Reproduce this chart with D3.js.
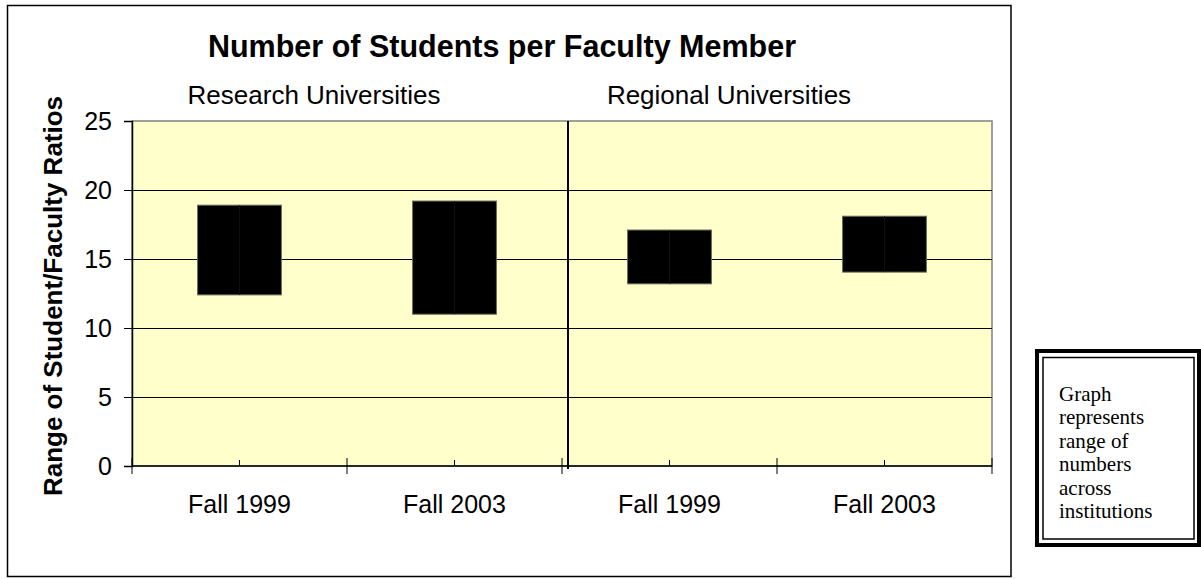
<!DOCTYPE html>
<html lang="en">
<head>
  <meta charset="utf-8">
  <title>Number of Students per Faculty Member</title>
  <script src="https://d3js.org/d3.v7.min.js"></script>
  <style>
    body { margin: 0; background: #fff; }
    text { font-family: Arial, "Liberation Sans", sans-serif; fill: #000; }
  </style>
</head>
<body>
  <script>
    // chart data
    var categories = ["Fall 1999", "Fall 2003", "Fall 1999", "Fall 2003"];
    var groups = ["Research Universities", "Regional Universities"];
    var lows = [12.4, 11.0, 13.2, 14.05];
    var highs = [18.9, 19.2, 17.1, 18.1];
    var yTicks = [0, 5, 10, 15, 20, 25];
    var noteLines = ["Graph", "represents", "range of", "numbers", "across", "institutions"];

    var width = 1201,
        height = 579;

    var plot = { left: 132, right: 992, top: 121, bottom: 466 };

    var svg = d3.select("body").append("svg")
        .attr("width", width)
        .attr("height", height);

    var x = d3.scaleBand()
        .domain(d3.range(categories.length))
        .range([plot.left, plot.right]);

    var y = d3.scaleLinear()
        .domain([0, 25])
        .range([plot.bottom, plot.top]);

    // outer chart frame
    svg.append("rect")
        .attr("x", 7.5).attr("y", 5.5)
        .attr("width", 1003.5).attr("height", 571)
        .attr("fill", "none")
        .attr("stroke", "#000")
        .attr("stroke-width", 1.5);

    // plot area
    svg.append("rect")
        .attr("x", plot.left).attr("y", plot.top)
        .attr("width", plot.right - plot.left)
        .attr("height", plot.bottom - plot.top)
        .attr("fill", "#ffffcc")
        .attr("stroke", "#808080")
        .attr("stroke-width", 1.5);

    // gridlines
    svg.append("g")
      .selectAll("line")
      .data(yTicks.filter(function(d) { return d > 0 && d < 25; }))
      .enter().append("line")
        .attr("x1", plot.left).attr("x2", plot.right)
        .attr("y1", function(d) { return y(d) + 0.5; })
        .attr("y2", function(d) { return y(d) + 0.5; })
        .attr("stroke", "#000")
        .attr("stroke-width", 1);

    // range boxes
    var bw = x.bandwidth() * 0.39;
    var bars = svg.append("g")
      .selectAll("g")
      .data(categories.map(function(c, i) { return { i: i, lo: lows[i], hi: highs[i] }; }))
      .enter().append("g");

    bars.append("rect")
        .attr("x", function(d) { return x(d.i) + x.bandwidth() / 2 - bw / 2; })
        .attr("y", function(d) { return y(d.hi); })
        .attr("width", bw)
        .attr("height", function(d) { return y(d.lo) - y(d.hi); })
        .attr("fill", "#000")
        .attr("stroke", "#6b6b55")
        .attr("stroke-width", 1);

    // faint high-low line through each box
    bars.append("line")
        .attr("x1", function(d) { return x(d.i) + x.bandwidth() / 2; })
        .attr("x2", function(d) { return x(d.i) + x.bandwidth() / 2; })
        .attr("y1", function(d) { return y(d.hi); })
        .attr("y2", function(d) { return y(d.lo); })
        .attr("stroke", "#101010")
        .attr("stroke-width", 1);

    // y axis
    var yAxis = svg.append("g")
        .attr("transform", "translate(" + plot.left + ",0)")
        .call(d3.axisLeft(y).tickValues(yTicks).tickSize(8).tickPadding(12));
    yAxis.select(".domain").attr("stroke", "#000").attr("stroke-width", 1.5);
    yAxis.selectAll(".tick line").attr("stroke", "#000");
    yAxis.selectAll("text")
        .style("font-size", "25px")
        .style("font-family", "Arial, 'Liberation Sans', sans-serif")
        .attr("fill", "#000");

    // x axis: boundary ticks crossing, centre ticks pointing inward
    var xg = svg.append("g");
    xg.append("line")
        .attr("x1", plot.left).attr("x2", plot.right)
        .attr("y1", plot.bottom).attr("y2", plot.bottom)
        .attr("stroke", "#000").attr("stroke-width", 1.5);

    var bounds = d3.range(categories.length + 1).map(function(i) {
      return i < categories.length ? x(i) : x(i - 1) + x.bandwidth();
    });
    xg.selectAll(".major").data(bounds).enter().append("line")
        .attr("x1", function(d) { return d; }).attr("x2", function(d) { return d; })
        .attr("y1", plot.bottom - 8).attr("y2", plot.bottom + 8)
        .attr("stroke", "#000");
    xg.selectAll(".minor").data(d3.range(categories.length)).enter().append("line")
        .attr("x1", function(i) { return x(i) + x.bandwidth() / 2; })
        .attr("x2", function(i) { return x(i) + x.bandwidth() / 2; })
        .attr("y1", plot.bottom - 6).attr("y2", plot.bottom)
        .attr("stroke", "#000");
    xg.selectAll(".lab").data(categories).enter().append("text")
        .attr("x", function(d, i) { return x(i) + x.bandwidth() / 2; })
        .attr("y", 513)
        .attr("text-anchor", "middle")
        .style("font-size", "25px")
        .text(function(d) { return d; });

    // divider between the two groups
    svg.append("line")
        .attr("x1", x(2) + 6).attr("x2", x(2) + 6)
        .attr("y1", plot.top).attr("y2", plot.bottom + 3)
        .attr("stroke", "#000").attr("stroke-width", 2);

    // titles
    svg.append("text")
        .attr("x", 502).attr("y", 57)
        .attr("text-anchor", "middle")
        .style("font-size", "30.5px")
        .style("font-weight", "bold")
        .text("Number of Students per Faculty Member");

    svg.selectAll(".group").data(groups).enter().append("text")
        .attr("x", function(d, i) { return i === 0 ? 314 : 729; })
        .attr("y", 104)
        .attr("text-anchor", "middle")
        .style("font-size", "26px")
        .text(function(d) { return d; });

    svg.append("text")
        .attr("transform", "translate(62,296) rotate(-90)")
        .attr("text-anchor", "middle")
        .style("font-size", "26px")
        .style("font-weight", "bold")
        .text("Range of Student/Faculty Ratios");

    // note box with double border
    svg.append("rect")
        .attr("x", 1037).attr("y", 351)
        .attr("width", 162).attr("height", 194)
        .attr("fill", "#fff")
        .attr("stroke", "#000").attr("stroke-width", 4);
    svg.append("rect")
        .attr("x", 1043).attr("y", 357.5)
        .attr("width", 151).attr("height", 181.5)
        .attr("fill", "none")
        .attr("stroke", "#000").attr("stroke-width", 1.5);

    svg.selectAll(".note").data(noteLines).enter().append("text")
        .attr("x", 1059)
        .attr("y", function(d, i) { return 401 + i * 23.4; })
        .style("font-family", "'Times New Roman', 'Liberation Serif', serif")
        .style("font-size", "21px")
        .text(function(d) { return d; });
  </script>
</body>
</html>
